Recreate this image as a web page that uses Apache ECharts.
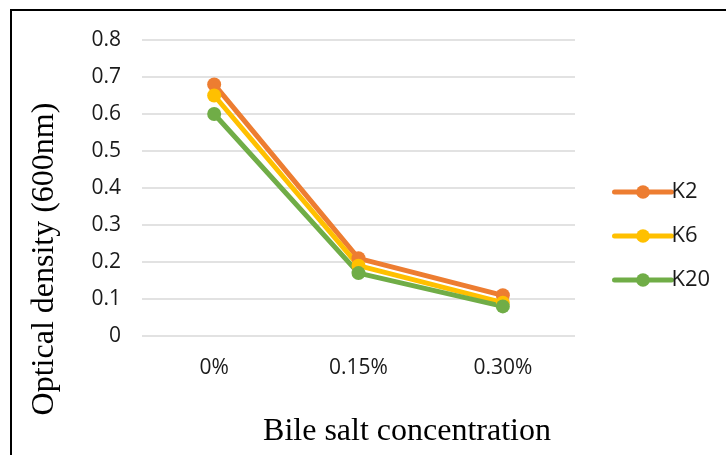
<!DOCTYPE html>
<html>
<head>
<meta charset="utf-8">
<script src="https://cdn.jsdelivr.net/npm/echarts@6/dist/echarts.min.js"></script>
<style>
  html, body { margin: 0; padding: 0; background: #fff; }
  #chart { width: 726px; height: 455px; }
</style>
</head>
<body>
<div id="chart"></div>
<script>
// Bile salt tolerance: optical density at 600 nm per strain
const categories = ['0%', '0.15%', '0.30%'];
const k2 = [0.68, 0.21, 0.11];
const k6 = [0.65, 0.19, 0.09];
const k20 = [0.60, 0.17, 0.08];
const seriesNames = ['K2', 'K6', 'K20'];
const colors = ['#ED7D31', '#FFC000', '#70AD47'];
const xTitle = 'Bile salt concentration';
const yTitle = 'Optical density (600nm)';

const chart = echarts.init(document.getElementById('chart'), null, { renderer: 'canvas' });

const labelFont = { fontFamily: 'Open Sans', fontSize: 21, color: '#1a1a1a' };
const titleFont = { fontFamily: 'Liberation Serif', fontSize: 32, fill: '#000' };

function lineSeries(name, data, color) {
  return {
    name: name,
    type: 'line',
    data: data,
    symbol: 'circle',
    symbolSize: 14,
    itemStyle: { color: color },
    lineStyle: { color: color, width: 5, cap: 'round', join: 'round' },
    emphasis: { disabled: true },
    animation: false
  };
}

chart.setOption({
  animation: false,
  grid: { left: 142, right: 151, top: 40, bottom: 119, containLabel: false },
  legend: {
    orient: 'vertical',
    left: 607,
    top: 176,
    itemWidth: 57,
    itemHeight: 17,
    itemGap: 22,
    data: seriesNames,
    lineStyle: { width: 5 },
    textStyle: Object.assign({}, labelFont, { fontSize: 22, padding: [0, 0, 0, -5] })
  },
  xAxis: {
    type: 'category',
    data: categories,
    boundaryGap: true,
    axisLine: { show: false },
    axisTick: { show: false },
    axisLabel: Object.assign({}, labelFont, { margin: 22 })
  },
  yAxis: {
    type: 'value',
    min: 0,
    max: 0.8,
    interval: 0.1,
    axisLine: { show: false },
    axisTick: { show: false },
    splitLine: { lineStyle: { color: '#d9d9d9', width: 1.5 } },
    axisLabel: Object.assign({}, labelFont, {
      margin: 21,
      formatter: function (v) { return v === 0 ? '0' : v.toFixed(1); }
    })
  },
  graphic: [
    {
      type: 'rect',
      shape: { x: 11, y: 10, width: 730, height: 460 },
      style: { fill: 'none', stroke: '#000', lineWidth: 2 },
      silent: true
    },
    {
      type: 'text',
      x: 45, y: 259,
      rotation: Math.PI / 2,
      style: Object.assign({ text: yTitle, align: 'center', verticalAlign: 'middle' }, titleFont),
      silent: true
    },
    {
      type: 'text',
      x: 407, y: 432,
      style: Object.assign({ text: xTitle, align: 'center', verticalAlign: 'middle' }, titleFont),
      silent: true
    }
  ],
  series: [
    lineSeries(seriesNames[0], k2, colors[0]),
    lineSeries(seriesNames[1], k6, colors[1]),
    lineSeries(seriesNames[2], k20, colors[2])
  ]
});
</script>
</body>
</html>
